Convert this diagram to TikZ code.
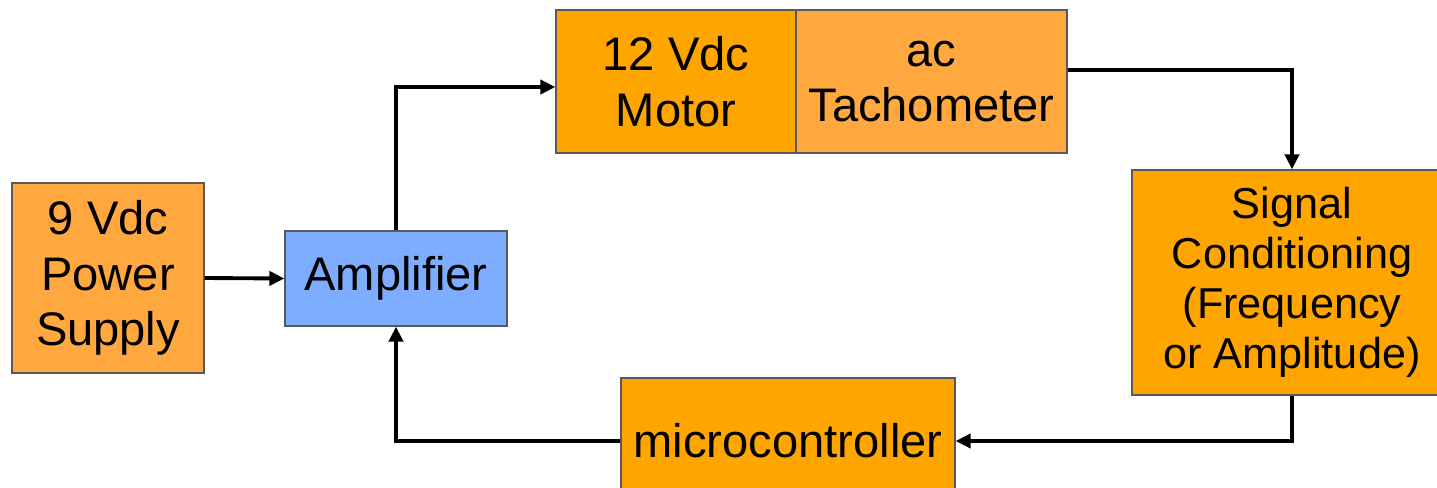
\documentclass[tikz,border=0pt]{standalone}
\usepackage{fontspec}
\setmainfont{Liberation Sans}
\usetikzlibrary{arrows.meta}
\definecolor{deeporange}{HTML}{FFA500}
\definecolor{softorange}{HTML}{FFA83F}
\definecolor{ampblue}{HTML}{7EACFF}
\begin{document}
\begin{tikzpicture}[
    block/.style={draw=black!65, line width=0.35pt, align=center, inner sep=0pt,
        font=\fontsize{13.4}{15.8}\selectfont},
    link/.style={line width=1.1pt, -{Triangle[length=1.5mm,width=1.4mm]}}
    ]
    \useasboundingbox (0, 0) rectangle (14.37, 4.87);
    \node[block, fill=softorange, minimum width=1.92cm, minimum height=1.90cm] (supply) at (1.08, 2.09) {9 Vdc\\Power\\Supply};
    \node[block, fill=ampblue, minimum width=2.22cm, minimum height=0.95cm] (amp) at (3.96, 2.085) {Amplifier};
    \node[block, fill=deeporange, minimum width=2.40cm, minimum height=1.43cm] (motor) at (6.76, 4.055) {12 Vdc\\Motor};
    \node[block, fill=softorange, minimum width=2.71cm, minimum height=1.43cm] (tacho) at (9.315, 4.055) {ac\\Tachometer};
    \node[block, fill=deeporange, minimum width=3.20cm, minimum height=2.25cm,
        font=\fontsize{12.3}{14.2}\selectfont] (signal) at (12.92, 2.045) {Signal\\Conditioning\\(Frequency\\or Amplitude)};
    \node[block, fill=deeporange, minimum width=3.34cm, minimum height=1.26cm] (micro) at (7.88, 0.46) {microcontroller};
    % connections round the loop
    \draw[link] (supply.east) -- (amp.west);
    \draw[link] (amp.north) |- ([yshift=-0.55mm]motor.west);
    \draw[link] ([yshift=1.15mm]tacho.east) -| (signal.north);
    \draw[link] (signal.south) |- (micro.east);
    \draw[link] (micro.west) -| (amp.south);
\end{tikzpicture}
\end{document}
